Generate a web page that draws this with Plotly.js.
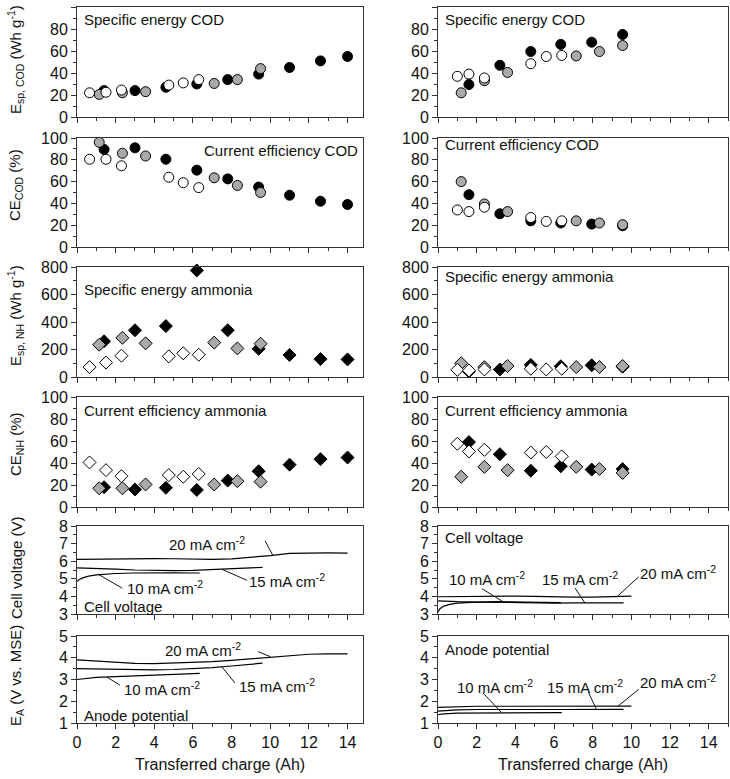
<!DOCTYPE html>
<html><head><meta charset="utf-8">
<script src="https://cdn.plot.ly/plotly-3.0.1.min.js"></script>
<style>html,body{margin:0;padding:0;background:#fff}#chart{width:730px;height:779px}</style>
</head><body><div id="chart"></div>
<script>
// ---------- x positions (transferred charge, Ah) ----------
const leftBlackX  = [1.4, 3.0, 4.6, 6.2, 7.8, 9.4, 11.0, 12.6, 14.0];
const leftGrayX   = [1.15, 2.35, 3.55, 7.1, 8.3, 9.5];
const leftWhiteX  = [0.65, 1.5, 2.3, 4.75, 5.5, 6.3];
const rightBlackX = [1.6, 3.2, 4.8, 6.35, 7.95, 9.55];
const rightGrayX  = [1.2, 2.4, 3.6, 7.15, 8.35, 9.55];
const rightWhiteX = [1.0, 1.6, 2.4, 4.8, 5.6, 6.4];

// ---------- left column ----------
const L_EspCOD_black = [24, 24, 27, 30, 34, 39, 45, 51, 55];
const L_EspCOD_gray  = [20.5, 22, 23, 30.5, 34, 44];
const L_EspCOD_white = [22, 22.5, 24.5, 29, 31, 34];

const L_CECOD_black = [89.5, 91, 80.5, 70.5, 62.5, 55, 47.5, 42, 39];
const L_CECOD_gray  = [96, 86, 83.5, 63.5, 56.5, 50];
const L_CECOD_white = [80.5, 80.5, 74.5, 64, 59, 54.5];

const L_EspNH_black = [260, 340, 370, 775, 340, 205, 160, 130, 128];
const L_EspNH_gray  = [235, 285, 245, 250, 208, 242];
const L_EspNH_white = [72, 105, 155, 150, 172, 162];

const L_CENH_black = [18, 16, 17.5, 15.5, 24, 32.5, 38.5, 43.5, 45];
const L_CENH_gray  = [17, 17, 20.5, 20.5, 23.5, 23];
const L_CENH_white = [40.5, 33.5, 28, 29, 27.5, 30];

// ---------- right column ----------
const R_EspCOD_black = [29.5, 47, 59.5, 66, 68, 75];
const R_EspCOD_gray  = [22, 33, 40.5, 55.5, 59.5, 65];
const R_EspCOD_white = [37, 39, 35.5, 48.5, 55, 56];

const R_CECOD_black = [48, 30.5, 24, 22, 21, 19.5];
const R_CECOD_gray  = [60, 39.5, 32.5, 24, 22, 20.5];
const R_CECOD_white = [34, 32.5, 36.5, 27, 23.5, 24];

const R_EspNH_black = [40, 55, 88, 78, 85, 75];
const R_EspNH_gray  = [100, 72, 80, 72, 72, 80];
const R_EspNH_white = [52, 48, 55, 60, 55, 60];

const R_CENH_black = [59, 48, 33, 37, 34, 34.5];
const R_CENH_gray  = [27.5, 36.5, 33.5, 36.5, 34.5, 31];
const R_CENH_white = [57.5, 50.5, 52, 49.5, 50, 46];

// ---------- voltage curves ----------
const L_V20_x = [0, 1, 2, 3, 4, 5, 6, 7, 8, 9, 10, 11, 12, 13, 14];
const L_V20_y = [6.1, 6.12, 6.14, 6.15, 6.15, 6.14, 6.12, 6.1, 6.13, 6.22, 6.32, 6.45, 6.48, 6.47, 6.46];
const L_V15_x = [0, 1, 2, 3, 4, 5, 6, 7, 8, 9, 9.6];
const L_V15_y = [5.62, 5.6, 5.55, 5.5, 5.47, 5.46, 5.48, 5.52, 5.57, 5.62, 5.65];
const L_V10_x = [0, 0.1, 0.3, 0.6, 1, 1.5, 2, 3, 4, 5, 6, 6.35];
const L_V10_y = [4.85, 4.95, 5.05, 5.15, 5.22, 5.27, 5.3, 5.33, 5.35, 5.34, 5.33, 5.33];

const L_A20_x = [0, 1, 2, 3, 4, 5, 6, 7, 8, 9, 10, 11, 12, 13, 14];
const L_A20_y = [3.9, 3.85, 3.78, 3.74, 3.73, 3.75, 3.78, 3.82, 3.88, 3.95, 4.05, 4.1, 4.16, 4.18, 4.18];
const L_A15_x = [0, 1, 2, 3, 4, 5, 6, 7, 8, 9, 9.6];
const L_A15_y = [3.5, 3.48, 3.46, 3.44, 3.44, 3.46, 3.5, 3.55, 3.62, 3.7, 3.75];
const L_A10_x = [0, 0.5, 1, 2, 3, 4, 5, 6, 6.35];
const L_A10_y = [3.0, 3.05, 3.1, 3.13, 3.17, 3.2, 3.24, 3.27, 3.28];

const R_V20_x = [0, 1, 2, 3, 4, 5, 6, 7, 8, 9, 10];
const R_V20_y = [3.98, 4.0, 4.02, 4.03, 4.02, 4.0, 3.97, 3.96, 3.96, 3.98, 4.02];
const R_V15_x = [0, 0.5, 1, 2, 3, 4, 5, 6, 7, 8, 9, 9.6];
const R_V15_y = [3.75, 3.72, 3.7, 3.68, 3.66, 3.64, 3.62, 3.62, 3.63, 3.63, 3.63, 3.63];
const R_V10_x = [0, 0.1, 0.3, 0.6, 1, 1.5, 2, 3, 4, 5, 6, 6.35];
const R_V10_y = [3.12, 3.3, 3.45, 3.55, 3.62, 3.66, 3.68, 3.7, 3.68, 3.66, 3.65, 3.65];

const R_A20_x = [0, 1, 2, 3, 4, 5, 6, 7, 8, 9, 10];
const R_A20_y = [1.72, 1.75, 1.77, 1.77, 1.77, 1.77, 1.77, 1.76, 1.76, 1.77, 1.78];
const R_A15_x = [0, 0.5, 1, 2, 3, 4, 5, 6, 7, 8, 9, 9.6];
const R_A15_y = [1.55, 1.58, 1.6, 1.62, 1.63, 1.63, 1.62, 1.62, 1.62, 1.62, 1.63, 1.63];
const R_A10_x = [0, 0.3, 1, 2, 3, 4, 5, 6, 6.4];
const R_A10_y = [1.38, 1.42, 1.45, 1.46, 1.47, 1.47, 1.47, 1.47, 1.48];

// ---------- labels ----------
const panelTitles = ['Specific energy COD', 'Current efficiency COD', 'Specific energy ammonia', 'Current efficiency ammonia', 'Cell voltage', 'Anode potential'];
const yTitles = ['E<sub>sp, COD</sub> (Wh g<sup>-1</sup>)', 'CE<sub>COD</sub> (%)', 'E<sub>sp, NH</sub> (Wh g<sup>-1</sup>)', 'CE<sub>NH</sub> (%)', 'Cell voltage (V)', 'E<sub>A</sub> (V vs. MSE)'];
const curLabels = ['10 mA cm<sup>-2</sup>', '15 mA cm<sup>-2</sup>', '20 mA cm<sup>-2</sup>'];
const xTitle = 'Transferred charge (Ah)';

// ---------- styling / layout ----------
const FONT = 'Liberation Sans, Arial, sans-serif';
const W = 730, H = 779;
const GRAY = '#a9a9a9';
const xDomPx = [[77, 363], [438, 728]];
const yDomPx = [[7, 117], [138, 247], [267, 377], [397, 507], [526, 614], [636, 723]];
const yRanges = [[0, 100], [0, 100], [0, 800], [0, 100], [3, 8], [1, 5]];
const yDticks = [20, 20, 200, 20, 1, 1];
const yMinor = [10, 10, 100, 10, 0.5, 0.5];
const xRanges = [[0, 14.8], [0, 15]];

function ax(r, c) { return r * 2 + c + 1; }

const traces = [];
function pts(xs, ys, i, symbol, fill) {
  traces.push({type: 'scatter', mode: 'markers', x: xs, y: ys, xaxis: 'x' + i, yaxis: 'y' + i,
    marker: {symbol: symbol, size: 10, color: fill, line: {color: '#000', width: 1}},
    showlegend: false, hoverinfo: 'skip', cliponaxis: false});
}
function line(xs, ys, i) {
  traces.push({type: 'scatter', mode: 'lines', x: xs, y: ys, xaxis: 'x' + i, yaxis: 'y' + i,
    line: {color: '#000', width: 1.2}, showlegend: false, hoverinfo: 'skip'});
}

const leftSets = [
  [L_EspCOD_black, L_EspCOD_gray, L_EspCOD_white, 'circle'],
  [L_CECOD_black, L_CECOD_gray, L_CECOD_white, 'circle'],
  [L_EspNH_black, L_EspNH_gray, L_EspNH_white, 'diamond'],
  [L_CENH_black, L_CENH_gray, L_CENH_white, 'diamond']
];
const rightSets = [
  [R_EspCOD_black, R_EspCOD_gray, R_EspCOD_white, 'circle'],
  [R_CECOD_black, R_CECOD_gray, R_CECOD_white, 'circle'],
  [R_EspNH_black, R_EspNH_gray, R_EspNH_white, 'diamond'],
  [R_CENH_black, R_CENH_gray, R_CENH_white, 'diamond']
];
leftSets.forEach((s, r) => {
  const i = ax(r, 0);
  pts(leftBlackX, s[0], i, s[3], '#000');
  pts(leftGrayX, s[1], i, s[3], GRAY);
  pts(leftWhiteX, s[2], i, s[3], '#fff');
});
rightSets.forEach((s, r) => {
  const i = ax(r, 1);
  pts(rightBlackX, s[0], i, s[3], '#000');
  pts(rightGrayX, s[1], i, s[3], GRAY);
  pts(rightWhiteX, s[2], i, s[3], '#fff');
});
line(L_V20_x, L_V20_y, ax(4, 0)); line(L_V15_x, L_V15_y, ax(4, 0)); line(L_V10_x, L_V10_y, ax(4, 0));
line(L_A20_x, L_A20_y, ax(5, 0)); line(L_A15_x, L_A15_y, ax(5, 0)); line(L_A10_x, L_A10_y, ax(5, 0));
line(R_V20_x, R_V20_y, ax(4, 1)); line(R_V15_x, R_V15_y, ax(4, 1)); line(R_V10_x, R_V10_y, ax(4, 1));
line(R_A20_x, R_A20_y, ax(5, 1)); line(R_A15_x, R_A15_y, ax(5, 1)); line(R_A10_x, R_A10_y, ax(5, 1));

const layout = {
  width: W, height: H, margin: {l: 0, r: 0, t: 0, b: 0},
  paper_bgcolor: '#fff', plot_bgcolor: '#fff', showlegend: false,
  font: {family: FONT, size: 16, color: '#111'},
  annotations: [], shapes: []
};
for (let r = 0; r < 6; r++) {
  for (let c = 0; c < 2; c++) {
    const i = ax(r, c);
    layout['xaxis' + (i === 1 ? '' : i)] = {
      domain: [xDomPx[c][0] / W, xDomPx[c][1] / W], anchor: 'y' + i,
      range: xRanges[c], dtick: 2, tick0: 0,
      showline: true, mirror: true, linecolor: '#333', linewidth: 1,
      ticks: 'outside', ticklen: 5, tickwidth: 1, tickcolor: '#333',
      minor: {dtick: 1, ticklen: 3, ticks: 'outside', tickcolor: '#333', showgrid: false},
      showgrid: false, zeroline: false, showticklabels: r === 5,
      tickfont: {size: 16, family: FONT, color: '#111'}
    };
    layout['yaxis' + (i === 1 ? '' : i)] = {
      domain: [1 - yDomPx[r][1] / H, 1 - yDomPx[r][0] / H], anchor: 'x' + i,
      range: yRanges[r], dtick: yDticks[r], tick0: 0,
      showline: true, mirror: true, linecolor: '#333', linewidth: 1,
      ticks: 'outside', ticklen: 5, tickwidth: 1, tickcolor: '#333',
      minor: {dtick: yMinor[r], ticklen: 3, ticks: 'outside', tickcolor: '#333', showgrid: false},
      showgrid: false, zeroline: false,
      tickfont: {size: 16, family: FONT, color: '#111'}
    };
  }
}

function txt(text, xpx, ypx, anchor) {
  layout.annotations.push({xref: 'paper', yref: 'paper', x: xpx / W, y: 1 - ypx / H,
    xanchor: anchor || 'left', yanchor: 'middle', text: text, showarrow: false,
    font: {size: 15, family: FONT, color: '#111'}});
}
// leader line: head anchored at a data point, tail offset in pixels (dx right, dy down)
function lead(i, x, y, dx, dy) {
  layout.shapes.push({type: 'line', xref: 'x' + i, yref: 'y' + i,
    xsizemode: 'pixel', xanchor: x, x0: 0, x1: dx,
    ysizemode: 'pixel', yanchor: y, y0: 0, y1: -dy,
    line: {color: '#111', width: 1}});
}

// panel titles
txt(panelTitles[0], 82, 20); txt(panelTitles[1], 360, 150, 'right');
txt(panelTitles[2], 82, 290); txt(panelTitles[3], 82, 410);
txt(panelTitles[4], 82, 606); txt(panelTitles[5], 82, 715);
txt(panelTitles[0], 443, 19); txt(panelTitles[1], 443, 145);
txt(panelTitles[2], 443, 276); txt(panelTitles[3], 443, 410);
txt(panelTitles[4], 443, 537); txt(panelTitles[5], 443, 649);

// current density labels, left
txt(curLabels[2], 167, 543); txt(curLabels[1], 247, 580); txt(curLabels[0], 125, 587);
lead(ax(4, 0), 10.15, 6.3, -8, -15);
lead(ax(4, 0), 7.5, 5.54, 25, 11);
lead(ax(4, 0), 1.1, 5.26, 24, 14);
txt(curLabels[2], 163, 649); txt(curLabels[1], 237, 685); txt(curLabels[0], 122, 688);
lead(ax(5, 0), 10.0, 4.05, -12, -5);
lead(ax(5, 0), 7.5, 3.58, 13, 16);
lead(ax(5, 0), 1.55, 3.11, 13, 8);
// right
txt(curLabels[0], 447, 578); txt(curLabels[1], 540, 578); txt(curLabels[2], 638, 572);
lead(ax(4, 1), 3.36, 3.7, -21, -13);
lead(ax(4, 1), 7.6, 3.63, -10, -15);
lead(ax(4, 1), 9.25, 3.98, 22, -20);
txt(curLabels[0], 455, 686); txt(curLabels[1], 545, 686); txt(curLabels[2], 638, 681);
lead(ax(5, 1), 3.3, 1.47, -19, -20);
lead(ax(5, 1), 8.2, 1.62, -8, -17);
lead(ax(5, 1), 9.3, 1.77, 21, -17);

// y titles
const yTitleY = [60, 185, 316, 444, 568, 676];
yTitles.forEach((t, r) => {
  layout.annotations.push({xref: 'paper', yref: 'paper', x: 16 / W, y: 1 - yTitleY[r] / H,
    xanchor: 'center', yanchor: 'middle', textangle: -90, text: t, showarrow: false,
    font: {size: 15, family: FONT, color: '#111'}});
});
// x titles
[220, 583].forEach(xc => {
  layout.annotations.push({xref: 'paper', yref: 'paper', x: xc / W, y: 1 - 764 / H,
    xanchor: 'center', yanchor: 'middle', text: xTitle, showarrow: false,
    font: {size: 16, family: FONT, color: '#111'}});
});

Plotly.newPlot('chart', traces, layout, {staticPlot: true, displayModeBar: false});
</script></body></html>
